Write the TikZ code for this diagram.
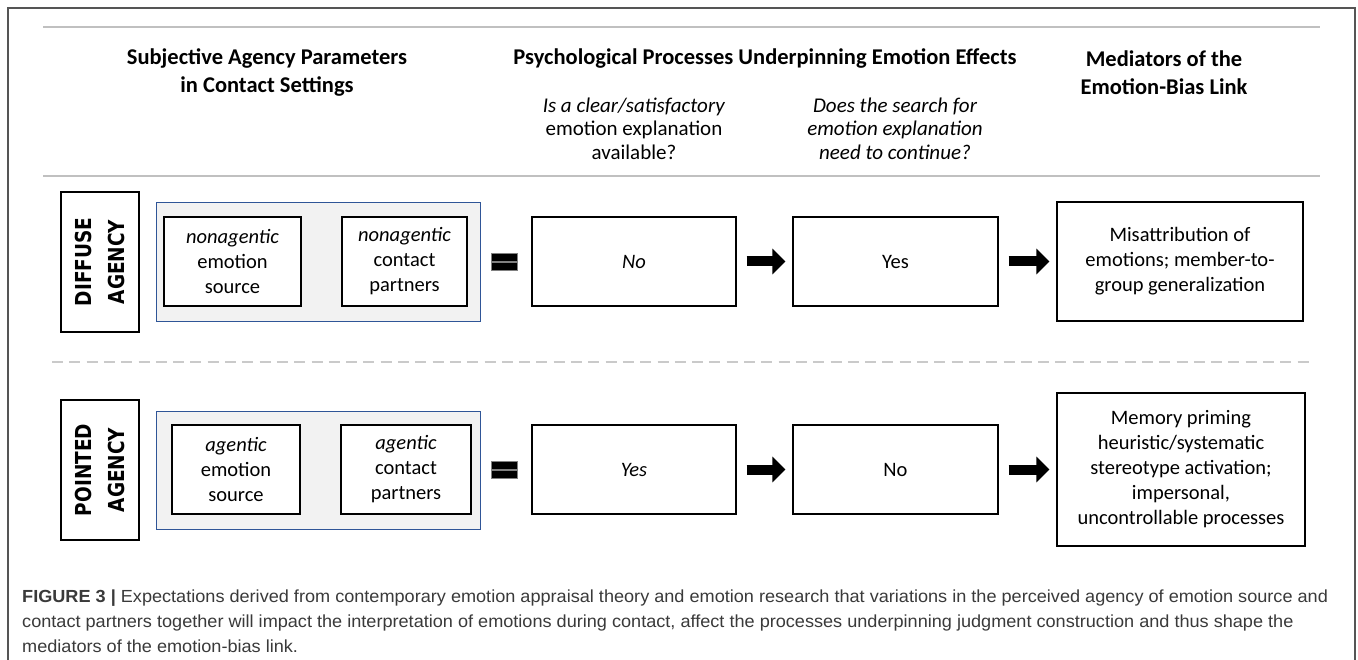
\documentclass[tikz,border=0pt]{standalone}
\usepackage{fontspec}
\setmainfont{Carlito}
\newfontfamily\agencyfont[FakeStretch=0.84]{DejaVu Sans}
\newfontfamily\capfont[FakeStretch=1.035]{Liberation Sans}
\usetikzlibrary{arrows.meta}
\definecolor{rulegray}{HTML}{C0C0C0}
\definecolor{dashgray}{HTML}{CACACA}
\definecolor{framegray}{HTML}{555555}
\definecolor{bluebox}{HTML}{2F5597}
\definecolor{boxfill}{HTML}{F2F2F2}
\definecolor{captext}{HTML}{3A3A3A}
\begin{document}
\begin{tikzpicture}[x=1pt,y=-1pt,
  box/.style={draw=black, line width=1.3pt, fill=white, inner sep=0pt, align=center,
    font=\fontsize{20.5}{25}\selectfont},
  groupbox/.style={draw=bluebox, line width=0.9pt, fill=boxfill, inner sep=0pt},
  agencybox/.style={draw=black, line width=1.3pt, fill=white, inner sep=0pt,
    minimum width=78pt, minimum height=140pt},
  agencytext/.style={rotate=90, align=center, inner sep=0pt,
    font=\agencyfont\bfseries\fontsize{22}{33}\selectfont},
  header/.style={align=center, inner sep=0pt, font=\bfseries\fontsize{22.5}{28}\selectfont},
  question/.style={align=center, inner sep=0pt, font=\fontsize{21}{23.5}\selectfont},
  blockarrow/.style={line width=10pt, -{Triangle[length=13pt,width=25pt]},
    shorten <=10pt, shorten >=7pt},
  eqbar/.style={fill=black, draw=gray, line width=0.4pt, inner sep=0pt,
    minimum width=26pt, minimum height=8pt},
  rule/.style={rulegray, line width=2pt},
]
\useasboundingbox (0,0) rectangle (1358,660);
\fill[white] (0,0) rectangle (1358,660);
% outer frame
\draw[framegray, line width=1.2pt] (8,660) -- (8,8) -- (1355,8) -- (1355,660);
% rules
\coordinate (r1a) at (43,27);  \coordinate (r1b) at (1320,27);
\coordinate (r2a) at (43,176); \coordinate (r2b) at (1320,176);
\coordinate (d1a) at (52,362); \coordinate (d1b) at (1309,362);
\draw[rule] (r1a) -- (r1b);
\draw[rule] (r2a) -- (r2b);
\draw[dashgray, line width=2.5pt, dash pattern=on 11pt off 6.3pt] (d1a) -- (d1b);

% headers
\node[header] (h1) at (267,72.5) {Subjective Agency Parameters\\in Contact Settings};
\node[header] (h2) at (765,58.5) {Psychological Processes Underpinning Emotion Effects};
\node[header] (h3) at (1164,72.5) {Mediators of the\\Emotion-Bias Link};
\node[question] (q1) at (634,128.5) {\textit{Is a clear/satisfactory}\\emotion explanation\\available?};
\node[question, font=\itshape\fontsize{21}{23.5}\selectfont] (q2) at (895,128.5) {Does the search for\\emotion explanation\\need to continue?};

% row 1
\node[agencybox] (diffuse) at (100,262) {};
\node[agencytext] (diffuset) at (diffuse) {DIFFUSE\\AGENCY};
\node[groupbox, minimum width=324pt, minimum height=119pt] (grp1) at (318,261.5) {};
\node[box, minimum width=137pt, minimum height=89pt] (src1) at (232.5,261.5) {\textit{nonagentic}\\emotion\\source};
\node[box, minimum width=125pt, minimum height=89pt] (par1) at (404.5,261.5) {\textit{nonagentic}\\contact\\partners};
\node[eqbar] (eq1a) at (504,257.5) {};
\node[eqbar] (eq1b) at (504,266.5) {};
\node[box, minimum width=204pt, minimum height=89pt] (no1) at (634,261.5) {\textit{No}};
\node[box, minimum width=205pt, minimum height=89pt] (yes1) at (895.5,261.5) {Yes};
\node[box, minimum width=246pt, minimum height=119pt] (med1) at (1180,261.5) {Misattribution of\\emotions; member-to-\\group generalization};
\draw[blockarrow] (no1.east) -- (yes1.west);
\draw[blockarrow] (yes1.east) -- (med1.west);

% row 2
\node[agencybox] (pointed) at (100,470) {};
\node[agencytext] (pointedt) at (pointed) {POINTED\\AGENCY};
\node[groupbox, minimum width=324pt, minimum height=118pt] (grp2) at (318,470) {};
\node[box, minimum width=128pt, minimum height=89pt] (src2) at (236,469.5) {\textit{agentic}\\emotion\\source};
\node[box, minimum width=130pt, minimum height=89pt] (par2) at (406,469.5) {\textit{agentic}\\contact\\partners};
\node[eqbar] (eq2a) at (504,465.5) {};
\node[eqbar] (eq2b) at (504,474.5) {};
\node[box, minimum width=204pt, minimum height=89pt] (yes2) at (634,469.5) {\textit{Yes}};
\node[box, minimum width=205pt, minimum height=89pt] (no2) at (895.5,469.5) {No};
\node[box, minimum width=248pt, minimum height=153pt] (med2) at (1181,469.5) {Memory priming\\heuristic/systematic\\stereotype activation;\\impersonal,\\uncontrollable processes};
\draw[blockarrow] (yes2.east) -- (no2.west);
\draw[blockarrow] (no2.east) -- (med2.west);

% caption
\node[anchor=north west, align=left, inner sep=0pt, text=captext,
  font=\capfont\fontsize{17.5}{25}\selectfont] (cap) at (22,590)
  {\textbf{FIGURE 3 |} Expectations derived from contemporary emotion appraisal theory and emotion research that variations in the perceived agency of emotion source and\\
  contact partners together will impact the interpretation of emotions during contact, affect the processes underpinning judgment construction and thus shape the\\
  mediators of the emotion-bias link.};
\end{tikzpicture}
\end{document}
